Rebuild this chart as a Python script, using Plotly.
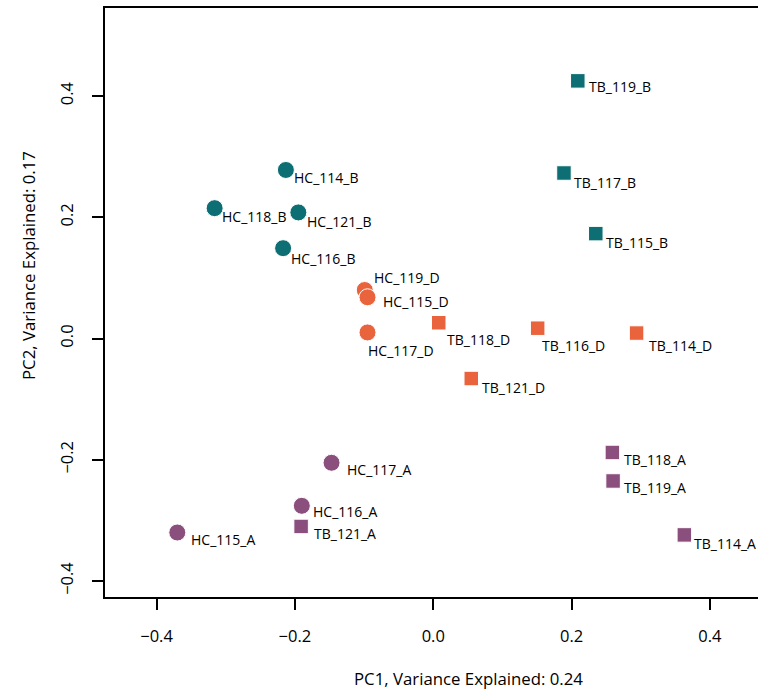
import plotly.graph_objects as go

# ---- data ----
samples = ["HC_114_B", "HC_118_B", "HC_121_B", "HC_116_B",
           "HC_119_D", "HC_115_D", "HC_117_D",
           "HC_117_A", "HC_116_A", "HC_115_A",
           "TB_119_B", "TB_117_B", "TB_115_B",
           "TB_118_D", "TB_116_D", "TB_114_D", "TB_121_D",
           "TB_118_A", "TB_119_A", "TB_114_A", "TB_121_A"]
pc1 = [-0.213, -0.316, -0.195, -0.217,
       -0.099, -0.095, -0.095,
       -0.147, -0.190, -0.370,
       0.209, 0.189, 0.235,
       0.008, 0.151, 0.294, 0.055,
       0.259, 0.260, 0.363, -0.191]
pc2 = [0.278, 0.215, 0.208, 0.149,
       0.080, 0.068, 0.010,
       -0.205, -0.276, -0.320,
       0.425, 0.273, 0.173,
       0.026, 0.017, 0.009, -0.066,
       -0.188, -0.235, -0.324, -0.310]

x_ticks = [-0.4, -0.2, 0.0, 0.2, 0.4]
y_ticks = [-0.4, -0.2, 0.0, 0.2, 0.4]
x_title = "PC1, Variance Explained: 0.24"
y_title = "PC2, Variance Explained: 0.17"

# ---- style ----
colors = {"B": "#0d6e73", "D": "#e9643c", "A": "#8a4f7d"}
symbols = {"HC": "circle", "TB": "square"}
sizes = {"HC": 17, "TB": 14.5}
# label offsets in px (right, down) relative to point
label_offsets = {
    "HC_114_B": (6.5, 8), "HC_118_B": (5.5, 8), "HC_121_B": (7, 9), "HC_116_B": (6, 10),
    "HC_119_D": (7, -13), "HC_115_D": (13, 4), "HC_117_D": (-2, 18),
    "HC_117_A": (13, 7), "HC_116_A": (9.5, 6), "HC_115_A": (11.5, 7),
    "TB_119_B": (9, 6), "TB_117_B": (8.5, 9), "TB_115_B": (8.5, 9),
    "TB_118_D": (6.5, 17), "TB_116_D": (2, 17), "TB_114_D": (10.5, 12), "TB_121_D": (8.5, 8.5),
    "TB_118_A": (10, 7), "TB_119_A": (9, 7), "TB_114_A": (8, 9), "TB_121_A": (10.5, 7),
}
FONT = "Open Sans"
TXT = "#000000"

fig = go.Figure()
for s, x, y in zip(samples, pc1, pc2):
    kind = s[:2]
    tp = s[-1]
    fig.add_trace(go.Scatter(
        x=[x], y=[y], mode="markers", showlegend=False,
        marker=dict(symbol=symbols[kind], size=sizes[kind], color=colors[tp],
                    line=dict(color="white", width=1)),
    ))
    dx, dy = label_offsets[s]
    fig.add_annotation(x=x, y=y, xref="x", yref="y", text=s, showarrow=False,
                       xanchor="left", yanchor="middle", xshift=dx, yshift=-dy,
                       font=dict(family=FONT, size=14, color=TXT))

axis_common = dict(showgrid=False, zeroline=False, showline=True, linecolor="black",
                   linewidth=2, ticks="outside", ticklen=11, tickwidth=2, tickcolor="black",
                   tickfont=dict(family=FONT, size=16.5, color=TXT))

fig.update_layout(
    width=758, height=693,
    margin=dict(l=105, r=0, t=8, b=96),
    plot_bgcolor="white", paper_bgcolor="white",
    xaxis=dict(range=[-0.4745, 0.4695], tickvals=x_ticks,
               ticktext=[f"{v:.1f}".replace("-", "\u2212") for v in x_ticks],
               mirror=True, ticklabelstandoff=12, **axis_common),
    yaxis=dict(range=[-0.4264, 0.5452], tickvals=y_ticks,
               ticktext=[f"{v:.1f}".replace("-", "\u2212") for v in y_ticks],
               tickangle=-90, ticklabelstandoff=12, **axis_common),
)
# axis titles placed as pixel-positioned annotations (original was cropped)
fig.add_annotation(xref="paper", yref="paper", x=(468 - 105) / 653, y=(597 - 678) / 589,
                   text=x_title, showarrow=False, xanchor="center", yanchor="middle",
                   font=dict(family=FONT, size=16.8, color=TXT))
fig.add_annotation(xref="paper", yref="paper", x=(28 - 105) / 653, y=(597 - 266) / 589,
                   text=y_title, textangle=-90, showarrow=False,
                   xanchor="center", yanchor="middle",
                   font=dict(family=FONT, size=16.8, color=TXT))

fig.write_html("out.html")
